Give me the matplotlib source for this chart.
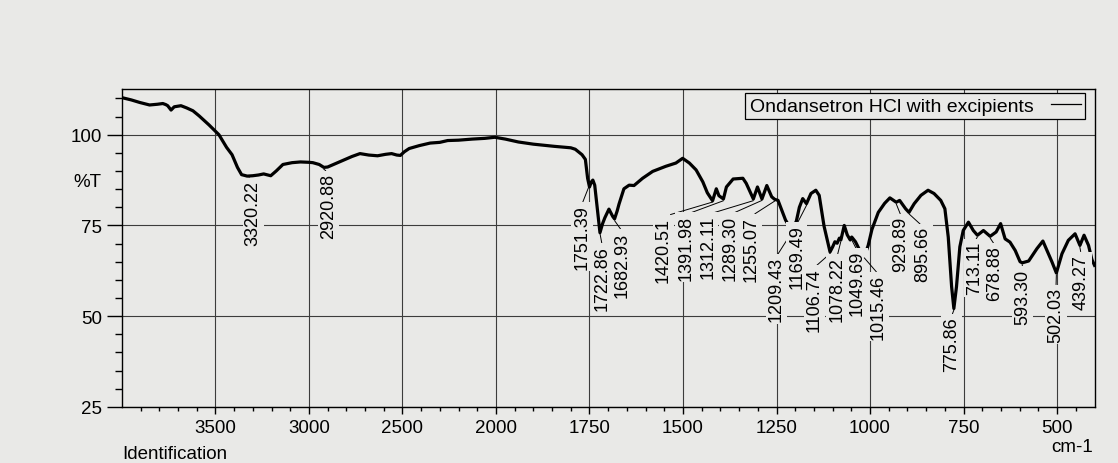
import numpy as np
import matplotlib
matplotlib.use("Agg")
import matplotlib.pyplot as plt
from matplotlib.lines import Line2D
from matplotlib.ticker import FixedLocator, NullFormatter
from matplotlib.transforms import blended_transform_factory

# IR spectrum, wavenumber (cm-1) vs transmittance (%T)
wavenumber = [
    3998, 3950, 3905, 3852, 3810, 3781, 3765, 3755, 3737, 3720, 3684, 3654,
    3620, 3587, 3534, 3481, 3440, 3411, 3382, 3360, 3330, 3300, 3270, 3242,
    3220, 3204, 3175, 3139, 3090, 3045, 3000, 2979, 2945, 2920, 2900, 2860,
    2820, 2770, 2727, 2680, 2633, 2590, 2558, 2530, 2511, 2490, 2464, 2410,
    2352, 2300, 2258, 2200, 2127, 2060, 2006, 1975, 1940, 1900, 1844, 1800,
    1788, 1770, 1761, 1755, 1750, 1745, 1741, 1736, 1728, 1722, 1715, 1709,
    1698, 1694, 1688, 1683, 1676, 1671, 1658, 1644, 1631, 1608, 1581, 1546,
    1519, 1501, 1483, 1465, 1447, 1435, 1421, 1411, 1404, 1392, 1384, 1366,
    1340, 1331, 1312, 1301, 1289, 1276, 1263, 1255, 1246, 1237, 1226, 1209,
    1197, 1189, 1180, 1170, 1158, 1145, 1136, 1123, 1107, 1100, 1094, 1088,
    1082, 1078, 1069, 1061, 1053, 1049, 1039, 1027, 1015, 1005, 995, 978,
    961, 947, 930, 921, 905, 896, 882, 864, 845, 829, 811, 800,
    791, 782, 776, 769, 760, 751, 737, 724, 713, 697, 679, 663,
    651, 639, 626, 612, 599, 593, 576, 554, 538, 527, 514, 502,
    487, 470, 452, 439, 428, 416, 407, 400,
]
transmittance = [
    110.2, 109.6, 108.9, 108.2, 108.4, 108.6, 108.3, 108.0, 106.8, 107.7, 108.0, 107.4,
    106.6, 105.2, 102.7, 100.0, 96.5, 94.5, 91.0, 89.0, 88.6, 88.7, 88.9, 89.2,
    88.9, 88.7, 90.0, 91.8, 92.3, 92.5, 92.4, 92.3, 91.8, 91.0, 91.1, 92.0,
    92.9, 94.0, 94.8, 94.4, 94.2, 94.6, 94.8, 94.4, 94.3, 95.3, 96.2, 97.0,
    97.7, 97.9, 98.4, 98.5, 98.8, 99.0, 99.3, 98.8, 98.0, 97.4, 96.8, 96.4,
    96.0, 94.5, 93.2, 88.0, 85.6, 87.0, 87.5, 86.1, 78.5, 73.0, 75.5, 77.1,
    79.5, 78.7, 77.5, 76.8, 79.0, 80.9, 85.1, 86.1, 86.0, 88.0, 89.9, 91.3,
    92.2, 93.5, 92.2, 90.3, 87.0, 84.0, 81.8, 85.1, 83.2, 82.3, 85.6, 87.8,
    88.0, 86.6, 82.3, 85.6, 82.3, 86.0, 82.9, 82.2, 81.9, 79.5, 76.5, 73.5,
    76.2, 80.0, 82.4, 81.0, 83.8, 84.7, 83.3, 74.8, 67.7, 69.1, 70.5, 70.1,
    71.5, 71.0, 75.0, 72.4, 71.0, 71.8, 70.5, 68.0, 66.5, 69.5, 73.9, 78.6,
    81.1, 82.6, 81.4, 81.9, 79.6, 78.6, 81.0, 83.3, 84.7, 83.8, 81.9, 79.6,
    71.8, 58.1, 52.1, 58.1, 69.1, 73.6, 75.9, 73.6, 72.3, 73.6, 72.0, 73.2,
    75.5, 71.3, 70.4, 68.1, 65.0, 64.7, 65.2, 68.6, 70.7, 68.1, 65.0, 61.9,
    67.2, 70.9, 72.7, 69.5, 72.3, 69.5, 65.6, 64.0,
]

# picked peaks
peaks = [
    3320.22, 2920.88, 1751.39, 1722.86, 1682.93, 1420.51, 1391.98, 1312.11,
    1289.30, 1255.07, 1209.43, 1169.49, 1106.74, 1078.22, 1049.69, 1015.46,
    929.89, 895.66, 775.86, 713.11, 678.88, 593.30, 502.03, 439.27,
]
# where each peak label sits (wavenumber of the column, %T of its top end)
label_x = [
    3298, 2895, 1770, 1716, 1662, 1553, 1492, 1434,
    1374, 1317, 1250, 1196, 1149, 1088, 1035, 978,
    917, 860, 782, 720, 666, 592, 503, 436,
]
label_top = [
    87.4, 89.5, 80.9, 69.5, 73.3, 77.4, 78.0, 78.0,
    78.0, 77.6, 66.5, 75.3, 63.4, 66.5, 68.2, 61.6,
    77.6, 74.8, 50.0, 70.7, 69.5, 63.1, 58.1, 67.2,
]

x_major = [3500, 3000, 2500, 2000, 1750, 1500, 1250, 1000, 750, 500]
x_minor = list(range(3900, 2000, -100)) + list(range(1950, 400, -50))
y_major = [25, 50, 75, 100]
y_minor = [30, 35, 40, 45, 55, 60, 65, 70, 80, 85, 90, 95, 105, 110]

paper = "#e9e9e7"
plt.rcParams["font.family"] = ["Liberation Sans", "DejaVu Sans"]


# spectrometer axis: 500 cm-1 per division above 2000, 250 cm-1 below
def fwd(x):
    x = np.asarray(x, dtype=float)
    return np.where(x >= 2000, (x - 2000) / 500.0, (x - 2000) / 250.0)


def inv(u):
    u = np.asarray(u, dtype=float)
    return np.where(u >= 0, 2000 + 500.0 * u, 2000 + 250.0 * u)


fig = plt.figure(figsize=(11.18, 4.64), dpi=100, facecolor=paper)
ax = fig.add_axes([0.109, 0.121, 0.870, 0.685], facecolor=paper)
ax.set_xscale("function", functions=(fwd, inv))

ax.plot(wavenumber, transmittance, color="black", lw=2.3, zorder=3,
        solid_joinstyle="round")

ax.set_xlim(4000, 400)
ax.set_ylim(25, 112.6)

ax.xaxis.set_major_locator(FixedLocator(x_major))
ax.xaxis.set_minor_locator(FixedLocator(x_minor))
ax.xaxis.set_minor_formatter(NullFormatter())
ax.set_xticklabels([str(v) for v in x_major])
ax.yaxis.set_major_locator(FixedLocator(y_major))
ax.yaxis.set_minor_locator(FixedLocator(y_minor))
ax.set_yticklabels([str(v) for v in y_major])

ax.tick_params(axis="x", which="major", length=5, width=1, pad=3.5, labelsize=13.5)
ax.tick_params(axis="x", which="minor", length=3, width=1)
ax.tick_params(axis="y", which="major", length=10.8, width=1, pad=3.6, labelsize=13.5)
ax.tick_params(axis="y", which="minor", length=5, width=1)
ax.grid(True, which="major", color="#3c3c3c", lw=0.8, zorder=1)
for sp in ax.spines.values():
    sp.set_linewidth(1.0)

# peak labels with leader lines
wn_asc = np.array(wavenumber[::-1], dtype=float)
t_asc = np.array(transmittance[::-1], dtype=float)
for pk, lx, ly in zip(peaks, label_x, label_top):
    ty = np.interp(pk, wn_asc, t_asc)
    ax.annotate(f"{pk:.2f}", xy=(pk, ty - 0.5), xytext=(lx, ly),
                rotation=90, ha="center", va="top", fontsize=13,
                bbox=dict(boxstyle="square,pad=0.12", fc=paper, ec="none"),
                arrowprops=dict(arrowstyle="-", lw=0.7, color="black",
                                shrinkA=0, shrinkB=0, relpos=(0.5, 1.0)),
                zorder=5)

handle = Line2D([], [], color="black", lw=0.9)
leg = ax.legend([handle], ["Ondansetron HCl with excipients"], loc="upper right",
                bbox_to_anchor=(0.9905, 0.987), borderaxespad=0, markerfirst=False,
                fancybox=False, edgecolor="black", facecolor=paper, framealpha=1,
                borderpad=0.22, handlelength=1.55, handletextpad=0.9, fontsize=14)
leg.get_frame().set_linewidth(0.9)
leg.set_zorder(6)

trans = blended_transform_factory(ax.transAxes, ax.transData)
ax.text(-0.021, 87.1, "%T", transform=trans, ha="right", va="center", fontsize=13.5)
fig.text(0.109, 0.020, "Identification", ha="left", va="center", fontsize=13.5)
fig.text(0.9777, 0.036, "cm-1", ha="right", va="center", fontsize=13.5)

fig.savefig("out.png", dpi=100, facecolor=paper)
